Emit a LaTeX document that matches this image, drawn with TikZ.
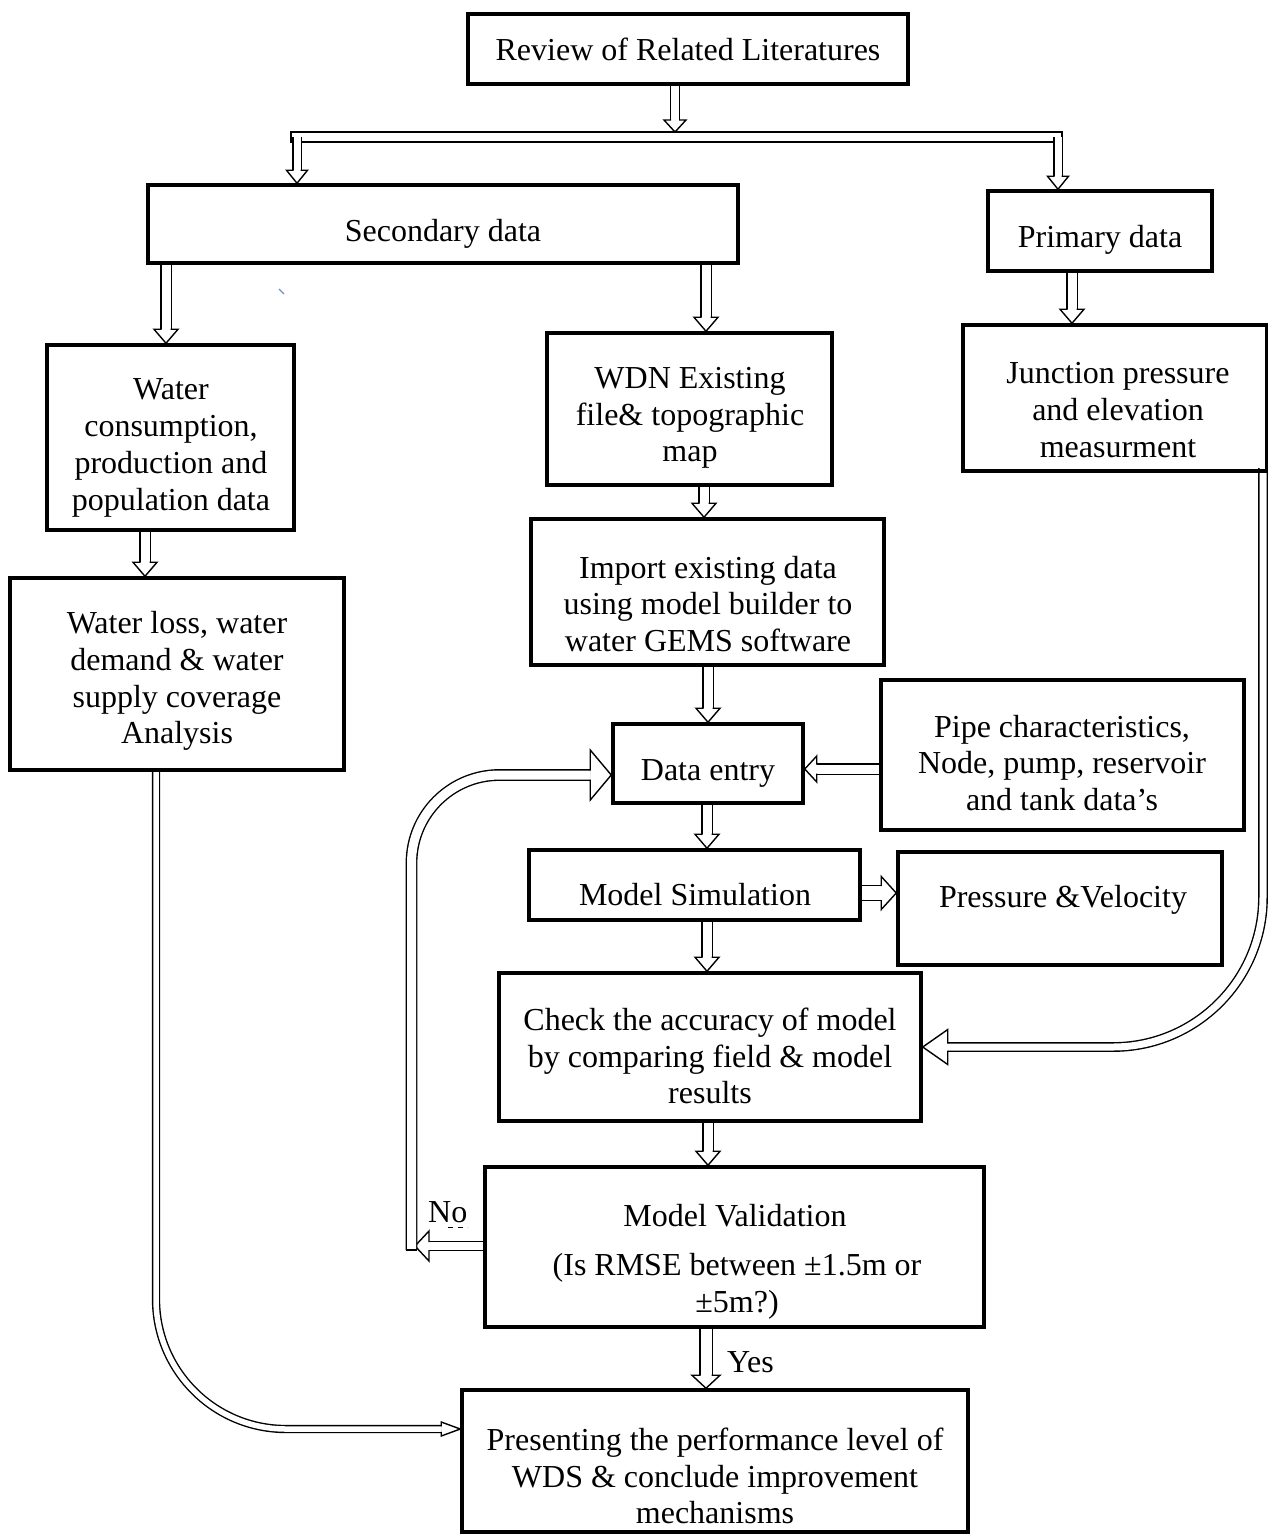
\documentclass[tikz,border=0pt]{standalone}
\usepackage{fontspec}
\setmainfont{Liberation Serif}
\usetikzlibrary{decorations.markings}
\pgfdeclarelayer{paper}
\pgfdeclarelayer{bg}
\pgfsetlayers{paper,bg,main}
\tikzset{
  box/.style={draw=black, line width=3.5pt, inner sep=0pt},
  txt/.style={align=center, font=\fontsize{32}{36.8}\selectfont, inner sep=0pt},
  lbl/.style={font=\fontsize{32}{36.8}\selectfont, inner sep=0pt},
  harrow/.style n args={3}{draw=black, line width=1.4pt, double=white, double distance=#1pt,
    shorten >=#3pt,
    postaction={decorate, decoration={markings, mark=at position 1 with {
      \fill[white, sharp corners] (0,0) -- (-#3,#2/2) -- (-#3,-#2/2) -- cycle;
      \draw[black, sharp corners, line width=1.4pt, line join=miter, shorten >=0pt, shorten <=0pt]
        (-#3,#1/2) -- (-#3,#2/2) -- (0,0) -- (-#3,-#2/2) -- (-#3,-#1/2);
    }}}},
  barline/.style={draw=black, line width=1.4pt, fill=white},
}
\begin{document}
\begin{tikzpicture}[x=1pt,y=1pt]
\begin{pgfonlayer}{paper}
\fill[white] (0,0) rectangle (1268,-1535);
\end{pgfonlayer}
\useasboundingbox (0,0) rectangle (1268,-1535);

% boxes
\node[box, minimum width=440, minimum height=70]  (review)  at (688,-49) {};
\node[box, minimum width=590, minimum height=78]  (second)  at (443,-224) {};
\node[box, minimum width=224, minimum height=80]  (primary) at (1100,-231) {};
\node[box, minimum width=247, minimum height=185] (wcons)   at (170.5,-437.5) {};
\node[box, minimum width=285, minimum height=152] (wdn)     at (689.5,-409) {};
\node[box, minimum width=304, minimum height=146] (junc)    at (1115,-398) {};
\node[box, minimum width=334, minimum height=192] (wloss)   at (177,-674) {};
\node[box, minimum width=353, minimum height=146] (import)  at (707.5,-592) {};
\node[box, minimum width=363, minimum height=150] (pipe)    at (1062.5,-755) {};
\node[box, minimum width=190, minimum height=79]  (dentry)  at (708,-763.5) {};
\node[box, minimum width=331, minimum height=70]  (msim)    at (694.5,-885) {};
\node[box, minimum width=324, minimum height=113] (press)   at (1060,-908.5) {};
\node[box, minimum width=422, minimum height=148] (check)   at (710,-1047) {};
\node[box, minimum width=499, minimum height=160] (valid)   at (734.5,-1247) {};
\node[box, minimum width=506, minimum height=142] (present) at (715,-1461) {};

% texts
\node[txt] (treview)  at (688,-49) {Review of Related Literatures};
\node[txt] (tsecond)  at (443,-234) {Secondary data};
\node[txt] (tprimary) at (1100,-240) {Primary data};
\node[txt] (twcons)   at (171,-448) {Water\\consumption,\\production and\\population data};
\node[txt] (twdn)     at (690,-418) {WDN Existing\\file\& topographic\\map};
\node[txt] (tjunc)    at (1118,-410) {Junction pressure\\and elevation\\measurment};
\node[txt] (twloss)   at (177,-681) {Water loss, water\\demand \& water\\supply coverage\\Analysis};
\node[txt] (timport)  at (708,-604) {Import existing data\\using model builder to\\water GEMS software};
\node[txt] (tpipe)    at (1062,-763) {Pipe characteristics,\\Node, pump, reservoir\\and tank data’s};
\node[txt] (tdentry)  at (708,-773) {Data entry};
\node[txt] (tmsim)    at (695,-895) {Model Simulation};
\node[txt] (tpress)   at (1063,-900) {Pressure \&Velocity};
\node[txt] (tcheck)   at (710,-1056) {Check the accuracy of model\\by comparing field \& model\\results};
\node[txt] (tvalid1)  at (735,-1216) {Model Validation};
\node[txt] (tvalid2)  at (737,-1286) {(Is RMSE between ±1.5m or\\±5m?)};
\node[txt] (tpresent) at (715,-1476) {Presenting the performance level of\\WDS \& conclude improvement\\mechanisms};
\node[lbl, anchor=base west] (tno) at (428,-1222) {No};
\node[lbl, anchor=base west] (tyes) at (727,-1372) {Yes};
\draw[line width=0.8pt, dash pattern=on 5pt off 5pt] ([xshift=-20pt,yshift=-5pt]tno.base east) -- ([yshift=-5pt]tno.base east);
\draw[color={rgb,255:red,110;green,145;blue,205}, line width=1.3pt] (279,-289) -- (284,-294);

% coordinates
\coordinate (barA) at (291,-132);
\coordinate (barB) at (1062,-142);
\coordinate (barTop) at (675,-132);
\coordinate (dl) at (297,-137);
\coordinate (dr) at (1058,-137);
\coordinate (noTip) at (415,-1246);
\coordinate (loopStart) at (411.5,-1250);
\coordinate (loopTurn) at (411.5,-775);
\coordinate (jStart) at (1263,-468);
\coordinate (jTurn) at (1263,-1047);
\coordinate (wTurn) at (156,-1429);

\begin{pgfonlayer}{bg}
\draw[harrow={8}{22}{12}] (review.south -| barTop) -- (barTop);
\draw[barline] (barA) rectangle (barB);
\draw[harrow={7}{21}{13}] (dl) -- (dl |- second.north);
\draw[harrow={7}{21}{13}] (dr) -- (dr |- primary.north);
\draw[harrow={9}{24}{14}] (second.south -| 166,0) -- (wcons.north -| 166,0);
\draw[harrow={9}{24}{14}] (second.south -| 706,0) -- (wdn.north -| 706,0);
\draw[harrow={9}{24}{14}] (primary.south -| 1072,0) -- (junc.north -| 1072,0);
\draw[harrow={9}{24}{14}] (wcons.south -| 145,0) -- (wloss.north -| 145,0);
\draw[harrow={9}{24}{14}] (wdn.south -| 704,0) -- (import.north -| 704,0);
\draw[harrow={9}{24}{14}] (import.south -| 708,0) -- (dentry.north -| 708,0);
\draw[harrow={9}{26}{12}] (pipe.west |- 0,-769) -- (dentry.east |- 0,-769);
\draw[harrow={9}{24}{14}] (dentry.south -| 707,0) -- (msim.north -| 707,0);
\draw[harrow={14}{33}{15}] (msim.east |- 0,-893) -- (press.west |- 0,-893);
\draw[harrow={9}{24}{14}] (msim.south -| 707,0) -- (check.north -| 707,0);
\draw[harrow={9}{24}{14}] (check.south -| 708,0) -- (valid.north -| 708,0);
\draw[harrow={11}{28}{13}] (valid.south -| 706,0) -- (present.north -| 706,0);
\draw[harrow={8}{30}{14}] (valid.west |- noTip) -- (noTip);
\draw[harrow={9}{50}{21}, rounded corners=88] (loopStart) -- (loopTurn) -- (dentry.west |- loopTurn);
\draw[line width=1.4pt] ([xshift=-5.9pt]loopStart) -- ([xshift=5.9pt]loopStart);
\draw[harrow={7}{35}{25}, rounded corners=150] (jStart) -- (jTurn) -- (check.east |- jTurn);
\draw[harrow={5.5}{14}{19}, rounded corners=130] (wloss.south -| wTurn) -- (wTurn) -- (present.west |- wTurn);
\end{pgfonlayer}
\end{tikzpicture}
\end{document}
